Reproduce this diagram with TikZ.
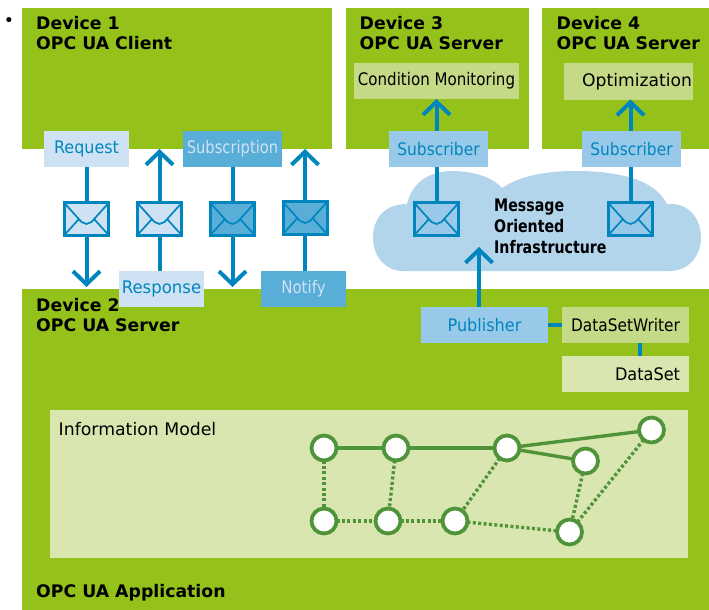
\documentclass[tikz,border=0pt]{standalone}
\usepackage{graphicx}
\usepackage{fontspec}
\setmainfont{DejaVu Sans}
\newfontfamily\condb{DejaVu Sans Bold}[FakeStretch=0.82]
\newcommand{\hs}[2]{\scalebox{#1}[1]{#2}}
\usetikzlibrary{arrows.meta}
\definecolor{devgreen}{HTML}{94C11A}
\definecolor{lgreen}{HTML}{C5DA87}
\definecolor{pgreen}{HTML}{DAE6B0}
\definecolor{pblue}{HTML}{CEE2F4}
\definecolor{mblue}{HTML}{59AED8}
\definecolor{sblue}{HTML}{99C9E8}
\definecolor{cloudblue}{HTML}{B2D5EC}
\definecolor{lineblue}{HTML}{0085BE}
\definecolor{netgreen}{HTML}{4F9438}
\tikzset{
  device/.style={fill=devgreen,draw=none,anchor=north west,inner sep=0pt,outer sep=0pt},
  devlabel/.style={anchor=north west,inner sep=0pt,align=left,font=\fontsize{17.3}{20.5}\selectfont\bfseries},
  box/.style={draw=none,minimum height=36pt,inner xsep=0pt,inner ysep=0pt,outer sep=0pt,font=\fontsize{17.3}{20}\selectfont},
  reqbox/.style={box,fill=pblue,text=lineblue,minimum width=85pt},
  subbox/.style={box,fill=mblue,text=pblue,minimum width=85pt},
  psbox/.style={box,fill=sblue,text=lineblue},
  appbox/.style={box,fill=lgreen,text=black},
  flow/.style={draw=lineblue,line width=4pt},
  flowtip/.style={flow,-{Straight Barb[length=13pt,width=27pt,line width=4pt]}},
  envelope/.style={draw=lineblue,line width=3pt,minimum width=44pt,minimum height=33pt,inner sep=0pt,outer sep=0pt,
    path picture={
      \begin{scope}[shift={(path picture bounding box.center)},draw=lineblue,line width=1.7pt]
        \draw (-23,-17) -- (-5,3) -- (0,5) -- (5,3) -- (23,-17);
        \draw (-23,17) -- (-7.5,0);
        \draw (23,17) -- (7.5,0);
      \end{scope}}},
  netnode/.style={circle,draw=netgreen,fill=white,line width=3.8pt,minimum size=25pt,inner sep=0pt,outer sep=0pt},
  firm/.style={draw=netgreen,line width=3.4pt},
  weak/.style={draw=netgreen,line width=3.4pt,dash pattern=on 3pt off 2.4pt}
}
\begin{document}
\begin{tikzpicture}[x=1pt,y=-1pt]
\useasboundingbox (0,0) rectangle (709,610);
\node[anchor=center,inner sep=0pt,font=\fontsize{17.3}{20}\selectfont] (bullet) at (9,22) {•};
% devices
\node[device,minimum width=310pt,minimum height=141pt] (dev1) at (22,8) {};
\node[device,minimum width=183pt,minimum height=141pt] (dev3) at (346,8) {};
\node[device,minimum width=167pt,minimum height=141pt] (dev4) at (542,8) {};
\node[device,minimum width=687pt,minimum height=321pt] (dev2) at (22,289) {};
\node[devlabel] (l1) at (36,16) {Device 1\\OPC UA Client};
\node[devlabel] (l3) at (359.5,16) {Device 3\\OPC UA Server};
\node[devlabel] (l4) at (556.5,16) {Device 4\\OPC UA Server};
\node[devlabel] (l2) at (36,298) {Device 2\\OPC UA Server};
\node[devlabel] (l5) at (36,584) {OPC UA Application};
% cloud
\fill[cloudblue] (403,271) .. controls (385,271) and (373,256) .. (373,238)
  .. controls (373,218) and (385,204) .. (407,204)
  .. controls (412,182) and (430,171) .. (452,171)
  .. controls (475,171) and (493,178) .. (502,188)
  .. controls (520,176) and (545,171) .. (575,171)
  .. controls (620,171) and (655,180) .. (667,204)
  .. controls (688,202) and (701,218) .. (701,238)
  .. controls (701,256) and (688,271) .. (670,271) -- cycle;
\node[anchor=north west,inner sep=0pt,align=left,font=\condb\fontsize{17.3}{20.7}\selectfont] (moi) at (494,199) {Message\\Oriented\\Infrastructure};
% tips
\coordinate (t1) at (86.5,287);
\coordinate (t2) at (159.5,149);
\coordinate (t3) at (232.5,287);
\coordinate (t4) at (305,149);
% boxes
\node[reqbox] (req) at (86.5,149) {\hs{.923}{Request}};
\node[subbox,minimum width=99pt] (subs) at (232.5,149) {\hs{.85}{Subscription}};
\node[reqbox] (resp) at (161.5,289) {\hs{.955}{Response}};
\node[subbox] (notify) at (303.5,289) {\hs{.868}{Notify}};
\node[envelope,fill=pblue] (e1) at (86.5,219) {};
\node[envelope,fill=pblue] (e2) at (159.5,219) {};
\node[envelope,fill=mblue] (e3) at (232.5,219) {};
\node[envelope,fill=mblue] (e4) at (305,218) {};
\draw[flow] (req) -- (e1);
\draw[flowtip] (e1) -- (t1);
\draw[flow] (e2 |- resp.north) -- (e2);
\draw[flowtip] (e2) -- (t2);
\draw[flow] (subs) -- (e3);
\draw[flowtip] (e3) -- (t3);
\draw[flow] (e4 |- notify.north) -- (e4);
\draw[flowtip] (e4) -- (t4);
% subscribers
\node[appbox,minimum width=165pt] (cm) at (436.5,81) {\hs{.87}{Condition Monitoring}};
\node[appbox,minimum width=129pt,text width=127pt,align=right] (opt) at (628.5,81.5) {\hs{.992}{Optimization}};
\node[psbox,minimum width=99pt] (s3) at (438.5,149) {\hs{.893}{Subscriber}};
\node[psbox,minimum width=99pt] (s4) at (631.5,149) {\hs{.893}{Subscriber}};
\node[envelope,fill=sblue] (e5) at (436.5,219) {};
\node[envelope,fill=sblue] (e6) at (630.5,219) {};
\draw[flow] (e5) -- (e5 |- s3.south);
\draw[flow] (e6) -- (e6 |- s4.south);
\draw[flowtip] (e5 |- s3.north) -- (e5 |- cm.south);
\draw[flowtip] (e6 |- s4.north) -- (e6 |- opt.south);
% publisher
\coordinate (t5) at (479,247);
\node[psbox,minimum width=127pt] (pub) at (484.5,325) {\hs{.929}{Publisher}};
\node[appbox,minimum width=127pt] (dsw) at (625.5,325) {\hs{.889}{DataSetWriter}};
\node[box,fill=pgreen,minimum width=127pt,text width=109pt,align=right] (ds) at (625.5,374) {\hs{.932}{DataSet}};
\draw[flowtip] (t5 |- pub.north) -- (t5);
\draw[flow] (pub) -- (dsw);
\draw[flow] (640,343) coordinate (dswb) -- (dswb |- ds.north);
% information model
\node[anchor=north west,fill=pgreen,minimum width=638pt,minimum height=148pt,inner sep=0pt,outer sep=0pt] (im) at (50,410) {};
\node[anchor=west,inner sep=0pt,font=\fontsize{17.3}{20}\selectfont] (iml) at (58.5,429) {Information Model};
\node[netnode] (n1) at (324,448) {};
\node[netnode] (n2) at (396,448) {};
\node[netnode] (n3) at (507,448) {};
\node[netnode] (n4) at (585.5,461) {};
\node[netnode] (n5) at (651.5,430) {};
\node[netnode] (n6) at (324,521) {};
\node[netnode] (n7) at (388,521) {};
\node[netnode] (n8) at (455,521) {};
\node[netnode] (n9) at (569.5,532) {};
\draw[firm] (n1) -- (n2);
\draw[firm] (n2) -- (n3);
\draw[firm] (n3) -- (n4);
\draw[firm] (n3) -- (n5);
\draw[weak] (n1) -- (n6);
\draw[weak] (n2) -- (n7);
\draw[weak] (n3) -- (n8);
\draw[weak] (n4) -- (n9);
\draw[weak] (n5) -- (n9);
\draw[weak] (n6) -- (n7);
\draw[weak] (n7) -- (n8);
\draw[weak] (n8) -- (n9);
\end{tikzpicture}
\end{document}
